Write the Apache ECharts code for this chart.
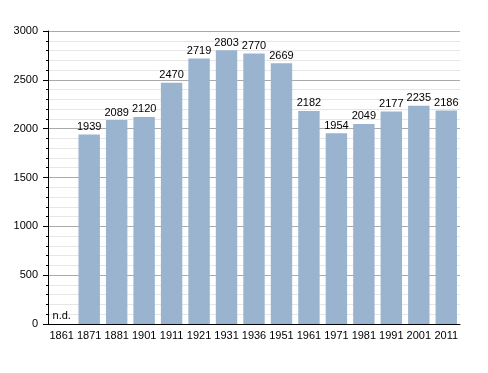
<!DOCTYPE html>
<html><head><meta charset="utf-8">
<script src="https://cdn.jsdelivr.net/npm/echarts@6/dist/echarts.min.js"></script>
<style>html,body{margin:0;padding:0;background:#fff}#c{width:488px;height:373px}</style>
</head><body><div id="c"></div>
<script>
const categories = ['1861','1871','1881','1901','1911','1921','1931','1936','1951','1961','1971','1981','1991','2001','2011'];
const population = [null,1939,2089,2120,2470,2719,2803,2770,2669,2182,1954,2049,2177,2235,2186];
const noDataMark = [0,'-','-','-','-','-','-','-','-','-','-','-','-','-','-'];
const yTicks = {min:0, max:3000, interval:500};
const font = 'Liberation Sans, Arial, sans-serif';
const chart = echarts.init(document.getElementById('c'), null, {renderer:'canvas'});
chart.setOption({
  animation:false,
  grid:{left:48, right:28, top:31, bottom:49, containLabel:false},
  xAxis:{type:'category', data:categories,
    axisLine:{lineStyle:{color:'#000', width:1}},
    axisTick:{show:false},
    axisLabel:{color:'#000', fontSize:11, fontFamily:font, margin:6, interval:0}},
  yAxis:{type:'value', min:yTicks.min, max:yTicks.max, interval:yTicks.interval,
    axisLine:{show:true, lineStyle:{color:'#000'}},
    axisTick:{show:true, length:5, lineStyle:{color:'#000'}},
    minorTick:{show:true, splitNumber:5, length:2, lineStyle:{color:'#000'}},
    splitLine:{show:true, lineStyle:{color:'#aaaaaa'}},
    minorSplitLine:{show:true, lineStyle:{color:'#e6e6e6'}},
    axisLabel:{color:'#000', fontSize:11, fontFamily:font, margin:10, formatter: v => String(v)}},
  series:[
    {type:'bar', data:population, barCategoryGap:'22%', barGap:'-100%',
     itemStyle:{color:'#9ab4d0'},
     label:{show:true, position:'top', distance:2, color:'#000', fontSize:11, fontFamily:font}},
    {type:'bar', data:noDataMark, barCategoryGap:'22%', barGap:'-100%',
     itemStyle:{color:'transparent'},
     label:{show:true, position:'top', distance:3, formatter:'n.d.', color:'#000', fontSize:11, fontFamily:font}}
  ]
});
</script></body></html>
